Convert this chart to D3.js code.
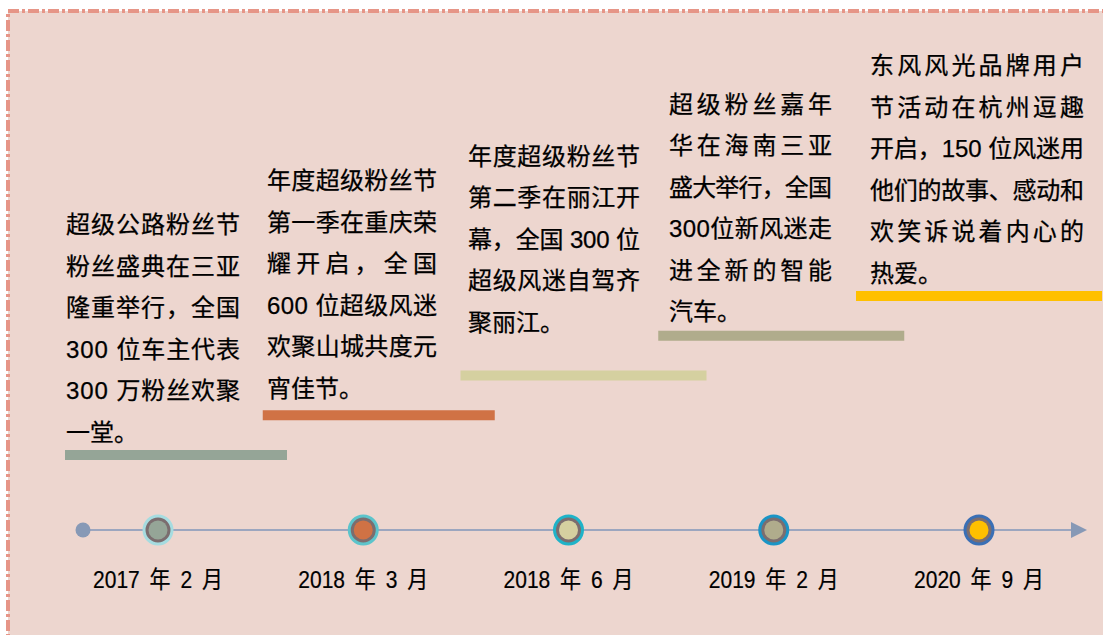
<!DOCTYPE html>
<html><head><meta charset="utf-8">
<script src="https://cdn.jsdelivr.net/npm/d3@7"></script>
<style>html,body{margin:0;padding:0;background:#fff;overflow:hidden}svg{display:block}</style>
</head><body>
<svg id="c" width="1103" height="635"></svg>
<script>
// ---- data ----
const dates = ["2017 年 2 月", "2018 年 3 月", "2018 年 6 月", "2019 年 2 月", "2020 年 9 月"];
const event1 = ["超级公路粉丝节", "粉丝盛典在三亚", "隆重举行，全国", "300 位车主代表", "300 万粉丝欢聚", "一堂。"];
const event2 = ["年度超级粉丝节", "第一季在重庆荣", "耀开启，全国", "600 位超级风迷", "欢聚山城共度元", "宵佳节。"];
const event3 = ["年度超级粉丝节", "第二季在丽江开", "幕，全国 300 位", "超级风迷自驾齐", "聚丽江。"];
const event4 = ["超级粉丝嘉年", "华在海南三亚", "盛大举行，全国", "300位新风迷走", "进全新的智能", "汽车。"];
const event5 = ["东风风光品牌用户", "节活动在杭州逗趣", "开启，150 位风迷用", "他们的故事、感动和", "欢笑诉说着内心的", "热爱。"];
const events = [event1, event2, event3, event4, event5];

// ---- styles / layout ----
const fills = ["#95A597", "#D07245", "#D5D0A0", "#B0AC8C", "#FFC000"];
const rings = ["#A6DCE0", "#5CC4CB", "#1FB3C8", "#1A95C6", "#3A6FB5"];
const blockW = [174, 170, 172, 163, 214];
const barW = [222, 232, 246, 246, 246];
const textLift = [226, 230, 215, 227, 226];
const FONT = "'Liberation Sans', Arial, 'Noto Sans CJK SC', sans-serif";

const svg = d3.select("#c");

// background panel with dash-dot border
svg.append("rect")
  .attr("x", 8).attr("y", 11).attr("width", 1200).attr("height", 700)
  .attr("fill", "#EDD6CF").attr("stroke", "#E69587").attr("stroke-width", 4)
  .attr("stroke-dasharray", "11,3,3,3");

const idx = d3.range(dates.length);
const x = d3.scaleLinear().domain([0, 4]).range([158, 979]);      // timeline nodes
const xText = d3.scaleLinear().domain([0, 4]).range([66, 870]);   // text blocks
const xBar = d3.scaleLinear().domain([0, 4]).range([65, 856]);    // step bars
const yBar = d3.scaleLinear().domain([0, 4]).range([450, 291]);   // step bars
const axisY = 530;

// axis line + start dot + arrow
svg.append("line")
  .attr("x1", 83).attr("x2", 1072).attr("y1", axisY).attr("y2", axisY)
  .attr("stroke", "#8096BA").attr("stroke-width", 1.5);
svg.append("circle").attr("cx", 83).attr("cy", axisY).attr("r", 7.5).attr("fill", "#8799B6");
svg.append("path")
  .attr("d", d3.line()([[1071, axisY - 8], [1087, axisY], [1071, axisY + 8]]) + "Z")
  .attr("fill", "#8799B6");

// bars
svg.selectAll("rect.bar").data(idx).join("rect").attr("class", "bar")
  .attr("x", i => xBar(i)).attr("y", i => yBar(i))
  .attr("width", i => barW[i]).attr("height", 10)
  .attr("fill", i => fills[i]);

// nodes
const nodes = svg.selectAll("g.node").data(idx).join("g").attr("class", "node")
  .attr("transform", i => `translate(${x(i)},${axisY})`);
nodes.append("circle").attr("r", 14).attr("fill", "#7B6D6F")
  .attr("stroke", i => rings[i]).attr("stroke-width", 3);
nodes.append("circle").attr("r", 9.5).attr("fill", i => fills[i]);

// date labels
svg.selectAll("text.date").data(idx).join("text").attr("class", "date")
  .attr("transform", i => `translate(${x(i)},588) scale(1,1.14)`)
  .attr("text-anchor", "middle")
  .style("word-spacing", "4px")
  .attr("font-family", FONT).attr("font-size", 21).attr("fill", "#000")
  .attr("stroke", "#000").attr("stroke-width", 0.2)
  .text(i => dates[i]);

// event text blocks (justified except last line)
const LH = 41.5;
idx.forEach(i => {
  const lines = events[i];
  const top = yBar(i) - textLift[i] + 9;
  const g = svg.append("g");
  lines.forEach((ln, k) => {
    const t = g.append("text")
      .attr("x", xText(i)).attr("y", top + k * LH)
      .attr("font-family", FONT).attr("font-size", 24).attr("fill", "#000")
      .attr("stroke", "#000").attr("stroke-width", 0.25)
      .text(ln);
    if (k < lines.length - 1) t.attr("textLength", blockW[i]).attr("lengthAdjust", "spacing");
  });
});
</script>
</body></html>
